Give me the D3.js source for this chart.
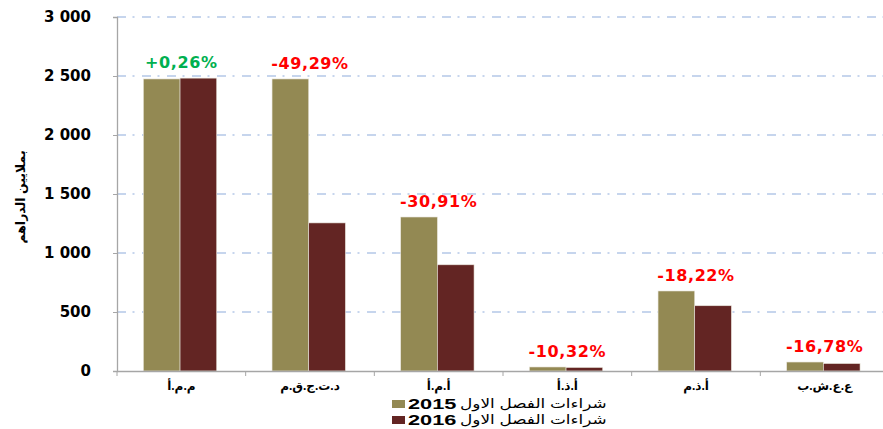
<!DOCTYPE html>
<html><head><meta charset="utf-8">
<script src="https://cdn.jsdelivr.net/npm/d3@7"></script>
<style>body{margin:0;background:#fff}svg{display:block}</style>
</head><body>
<svg id="c" width="883" height="429"></svg>
<script>
// ---- data ----
const categories = ["م.م.أ", "د.ت.ج.ق.م", "أ.م.أ", "أ.ذ.أ", "أ.ذ.م", "ع.ع.ش.ب"];
const values2015 = [2475, 2475, 1305, 34, 678, 76];
const values2016 = [2482, 1255, 900, 30, 553, 63];
const changeLabels = ["+0,26%", "-49,29%", "-30,91%", "-10,32%", "-18,22%", "-16,78%"];
const seriesNames = ["2015", "2016"];
const legendText = "شراءات الفصل الاول";
const yTicks = [0, 500, 1000, 1500, 2000, 2500, 3000];
const yTitle = "بملايين الدراهم";
const colors = ["#938953", "#632523"];

// ---- layout ----
const svg = d3.select("#c");
const L = 117, R = 889, T = 17, B = 371;
const x0 = d3.scaleBand().domain(categories).range([L, R]).padding(0);
const bw = x0.bandwidth();
const x1 = d3.scaleBand().domain(seriesNames).range([bw * 0.205, bw * 0.775]).padding(0);
const y = d3.scaleLinear().domain([0, 3000]).range([B, T]);
const loc = d3.formatLocale({decimal: ",", thousands: " ", grouping: [3], currency: ["", ""]});
const fmt = loc.format(",d");

// gridlines
svg.append("g").selectAll("line").data(yTicks.filter(d => d > 0)).join("line")
  .attr("x1", L).attr("x2", 883).attr("y1", d => y(d)).attr("y2", d => y(d))
  .attr("stroke", "#b4c7e7").attr("stroke-width", 1.3)
  .attr("stroke-dasharray", "9,6.5,2,7.5");

// y axis
const ya = svg.append("g").attr("transform", `translate(${L},0)`)
  .call(d3.axisLeft(y).tickValues(yTicks).tickFormat(fmt).tickSize(4).tickPadding(22));
ya.select(".domain").attr("stroke", "#a6a6a6").attr("stroke-width", 1.3);
ya.selectAll(".tick line").attr("stroke", "#a6a6a6");
ya.selectAll("text").attr("font-family", "DejaVu Sans, Verdana, sans-serif")
  .attr("font-size", 15).attr("font-weight", "bold").attr("fill", "#000");

// bars
const data = categories.map((c, i) => ({c, vals: [values2015[i], values2016[i]]}));
const gCat = svg.append("g").selectAll("g").data(data).join("g")
  .attr("transform", d => `translate(${x0(d.c)},0)`);
gCat.selectAll("rect").data(d => d.vals.map((v, j) => ({s: seriesNames[j], v, j}))).join("rect")
  .attr("x", d => x1(d.s)).attr("width", x1.bandwidth())
  .attr("y", d => y(d.v)).attr("height", d => B - y(d.v))
  .attr("fill", d => colors[d.j]).attr("stroke", "#e8e4da").attr("stroke-width", 0.6);

// x axis
const xa = svg.append("g").attr("transform", `translate(0,${B})`)
  .call(d3.axisBottom(x0).tickSize(0).tickPadding(10));
xa.select(".domain").attr("stroke", "#a6a6a6").attr("stroke-width", 1.3);
xa.selectAll("text").attr("font-family", "Liberation Sans, DejaVu Sans, sans-serif")
  .attr("font-size", 12).attr("font-weight", "bold").attr("fill", "#000");
svg.append("g").selectAll("line").data(categories).join("line")
  .attr("x1", d => x0(d)).attr("x2", d => x0(d)).attr("y1", B).attr("y2", B + 5)
  .attr("stroke", "#a6a6a6");

// change labels
svg.append("g").selectAll("text").data(data).join("text")
  .attr("x", d => x0(d.c) + bw / 2)
  .attr("y", d => y(Math.max(...d.vals)) - 10)
  .attr("text-anchor", "middle")
  .attr("font-family", "DejaVu Sans, Verdana, sans-serif").attr("font-size", 16)
  .attr("font-weight", "bold").attr("letter-spacing", 0.6)
  .attr("fill", (d, i) => changeLabels[i].startsWith("+") ? "#00b050" : "#ff0000")
  .text((d, i) => changeLabels[i]);

// y title
svg.append("text").attr("transform", `translate(25,${(T + B) / 2 + 3}) rotate(-90)`)
  .attr("text-anchor", "middle").attr("font-family", "Liberation Sans, DejaVu Sans, sans-serif")
  .attr("font-size", 12.5).attr("font-weight", "bold").text(yTitle);

// legend
const lg = svg.append("g").selectAll("g").data(seriesNames).join("g")
  .attr("transform", (d, i) => `translate(392,${400 + i * 16})`);
lg.append("rect").attr("y", 0).attr("width", 13).attr("height", 8).attr("fill", (d, i) => colors[i]);
lg.append("text").attr("transform", "translate(16,8.5) scale(1.45,1)")
  .attr("font-family", "Liberation Sans, Arial, sans-serif").attr("font-size", 15)
  .attr("font-weight", "bold").text(d => d);
lg.append("text").attr("transform", "translate(68,8) scale(1.3,1)")
  .attr("font-family", "Liberation Sans, DejaVu Sans, sans-serif").attr("font-size", 13)
  .text(legendText);
</script>
</body></html>
